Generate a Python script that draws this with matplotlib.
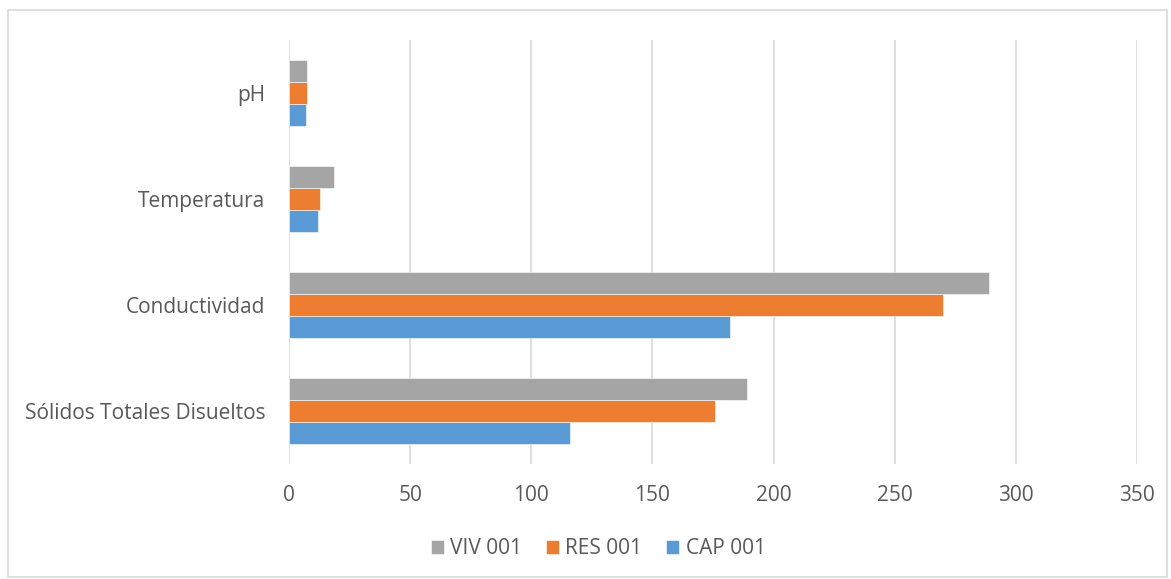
import numpy as np
from matplotlib import pyplot as plt
from matplotlib.patches import Rectangle

plt.rcParams['font.family'] = ['Open Sans', 'DejaVu Sans']

categories = ['Sólidos Totales Disueltos', 'Conductividad', 'Temperatura', 'pH']
series = ['CAP 001', 'RES 001', 'VIV 001']
cap = [116, 182, 11.8, 7.0]
res = [176, 270, 13.0, 7.3]
viv = [189, 289, 18.7, 7.6]
colors = ['#5B9BD5', '#ED7D31', '#A5A5A5']
xticks = [0, 50, 100, 150, 200, 250, 300, 350]

fig = plt.figure(figsize=(11.71, 5.79), dpi=100)
fig.patches.append(Rectangle((8 / 1171, 2 / 579), 1159 / 1171, 567 / 579,
                             transform=fig.transFigure, fill=False,
                             edgecolor='#D9D9D9', linewidth=1.2))
ax = fig.add_axes([289 / 1171, 1 - 464 / 579, 848 / 1171, 424 / 579])

y = np.arange(len(categories))
h = 0.208
handles = []
for i, (vals, name) in enumerate(zip([cap, res, viv], series)):
    b = ax.barh(y + (i - 1) * h, vals, height=h, color=colors[i],
                edgecolor='white', linewidth=0.4, label=name, zorder=3)
    handles.append(b)

ax.set_xlim(0, 350)
ax.set_ylim(-0.5, 3.5)
ax.set_xticks(xticks)
ax.set_yticks(y)
ax.set_yticklabels(categories)
ax.grid(axis='x', color='#D9D9D9', linewidth=1.2, zorder=0)
for s in ['top', 'right', 'bottom', 'left']:
    ax.spines[s].set_visible(False)
ax.tick_params(axis='both', length=0, colors='#595959', labelsize=15)
ax.tick_params(axis='x', pad=15)
ax.tick_params(axis='y', pad=17)

leg = fig.legend(handles[::-1], series[::-1], loc='center',
                 bbox_to_anchor=(0.511, 1 - 549 / 579), ncol=3, frameon=False,
                 fontsize=15, handlelength=0.62, handleheight=0.62,
                 columnspacing=1.15, handletextpad=0.3)
for t in leg.get_texts():
    t.set_color('#595959')

plt.savefig('out.png', dpi=100)
